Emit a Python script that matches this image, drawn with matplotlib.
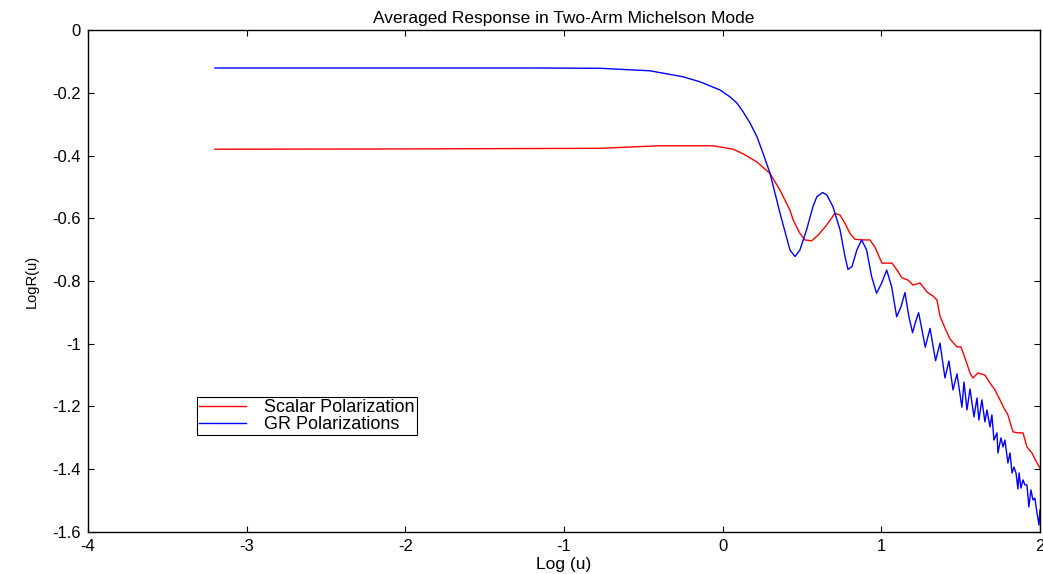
import matplotlib
matplotlib.use("Agg")
import matplotlib.pyplot as plt

# Log (u) and Log R(u) values
scalar_x = [-3.2, -2.0, -0.77, -0.40, -0.06, 0.067, 0.130, 0.214, 0.298, 0.361, 0.424,
            0.445, 0.475, 0.487, 0.518, 0.561, 0.603, 0.655, 0.708, 0.740, 0.771,
            0.802, 0.834, 0.880, 0.928, 0.960,
            1.004, 1.067, 1.099, 1.130, 1.168, 1.200, 1.244, 1.288, 1.326, 1.351,
            1.370, 1.401, 1.433, 1.477, 1.502, 1.527, 1.559, 1.578, 1.609, 1.653,
            1.685, 1.716, 1.748, 1.773, 1.798, 1.830, 1.861, 1.893, 1.918, 1.949,
            1.981, 2.0]
scalar_y = [-0.380, -0.379, -0.377, -0.369, -0.369, -0.380, -0.395, -0.420, -0.457,
            -0.510, -0.574, -0.606, -0.637, -0.648, -0.669, -0.672, -0.653, -0.622,
            -0.584, -0.590, -0.616, -0.648, -0.667, -0.669, -0.669, -0.692,
            -0.743, -0.743, -0.765, -0.790, -0.797, -0.813,
            -0.806, -0.835, -0.848, -0.861, -0.912, -0.950, -0.985, -1.010, -1.010,
            -1.045, -1.093, -1.109, -1.093, -1.100, -1.125, -1.147, -1.179, -1.205,
            -1.227, -1.281, -1.284, -1.284, -1.329, -1.348, -1.380, -1.396]

gr_x = [-3.2, -2.0, -1.2, -0.77, -0.458, -0.250, -0.143, -0.017, 0.046, 0.090, 0.128,
        0.172, 0.216, 0.254, 0.298, 0.330, 0.361, 0.424, 0.456, 0.487, 0.529, 0.569,
        0.594, 0.630, 0.657, 0.695, 0.740, 0.771, 0.790, 0.815, 0.846, 0.876, 0.907,
        0.939, 0.970, 1.002, 1.034, 1.065, 1.097, 1.124, 1.149, 1.174, 1.197, 1.216,
        1.235, 1.256, 1.277, 1.307, 1.342,
        1.370, 1.401, 1.426, 1.452,
        1.477, 1.508, 1.521, 1.540, 1.559, 1.584, 1.603, 1.615, 1.634, 1.653, 1.666,
        1.685, 1.697, 1.710, 1.729, 1.735, 1.754, 1.767, 1.779, 1.798, 1.811, 1.824,
        1.836, 1.849, 1.861, 1.868, 1.880, 1.893, 1.905, 1.918, 1.930, 1.943, 1.956,
        1.968, 1.981, 1.994, 2.0]
gr_y = [-0.121, -0.121, -0.121, -0.122, -0.130, -0.149, -0.165, -0.191, -0.213, -0.233,
        -0.260, -0.296, -0.340, -0.392, -0.456, -0.520, -0.583, -0.701, -0.722, -0.701,
        -0.637, -0.563, -0.531, -0.518, -0.526, -0.563, -0.637, -0.722, -0.763, -0.754,
        -0.701, -0.669, -0.701, -0.786, -0.839, -0.807, -0.765, -0.818, -0.914, -0.882,
        -0.837, -0.914, -0.965, -0.930, -0.901, -0.955, -1.011, -0.951, -1.054,
        -0.998, -1.109, -1.055, -1.147,
        -1.096, -1.202, -1.122, -1.211, -1.144, -1.233, -1.173,
        -1.243, -1.179, -1.249, -1.211, -1.265, -1.227, -1.307, -1.284, -1.348, -1.300,
        -1.329, -1.307, -1.380, -1.348, -1.412, -1.393, -1.412, -1.463, -1.412, -1.460,
        -1.434, -1.450, -1.450, -1.520, -1.466, -1.498, -1.492, -1.539, -1.578, -1.530]

x_ticks = [-4, -3, -2, -1, 0, 1, 2]
y_ticks = [0, -0.2, -0.4, -0.6, -0.8, -1, -1.2, -1.4, -1.6]
y_ticklabels = ["0", "-0.2", "-0.4", "-0.6", "-0.8", "-1", "-1.2", "-1.4", "-1.6"]

plt.rcParams['font.family'] = ['Liberation Sans', 'DejaVu Sans']

fig = plt.figure(figsize=(10.43, 5.74), dpi=100)
ax = fig.add_axes([0.0844, 0.0732, 0.9127, 0.8745])

ax.plot(scalar_x, scalar_y, color='#ff0000', lw=1.0, label='Scalar Polarization')
ax.plot(gr_x, gr_y, color='#0000ff', lw=1.0, label='GR Polarizations')

ax.set_xlim(-4, 2)
ax.set_ylim(-1.6, 0)
ax.set_xticks(x_ticks)
ax.set_xticklabels([str(t) for t in x_ticks])
ax.set_yticks(y_ticks)
ax.set_yticklabels(y_ticklabels)
ax.tick_params(direction='in', length=4, width=0.8, top=True, right=True,
               labelsize=12, pad=5)
for s in ax.spines.values():
    s.set_linewidth(1.0)

ax.set_title('Averaged Response in Two-Arm Michelson Mode', fontsize=12.5, pad=5)
ax.set_xlabel('Log (u)', fontsize=12.5, labelpad=2)
ax.set_ylabel('LogR(u)', fontsize=10.5, labelpad=10)

leg = ax.legend(loc='lower left', bbox_to_anchor=(0.1145, 0.193), fontsize=13,
                frameon=True, fancybox=False, edgecolor='black', framealpha=1,
                handlelength=2.6, handletextpad=1.0, borderpad=0.12,
                labelspacing=0.0, borderaxespad=0)
leg.get_frame().set_linewidth(0.8)

fig.savefig('out.png', dpi=100)
